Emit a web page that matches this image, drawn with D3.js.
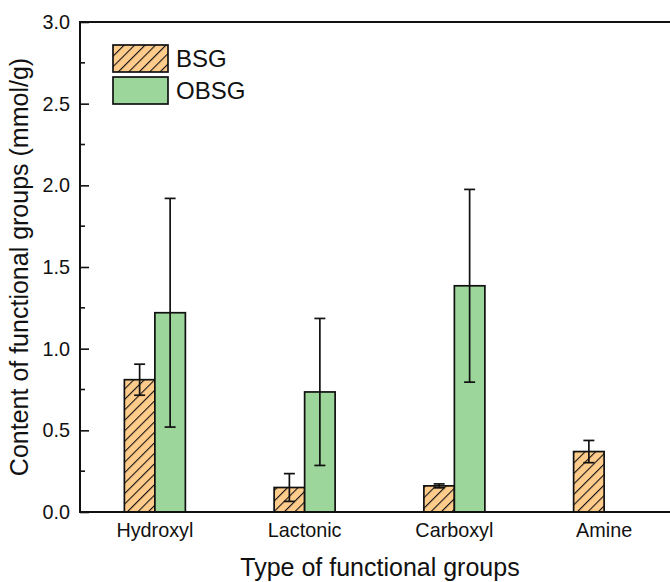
<!DOCTYPE html>
<html>
<head>
<meta charset="utf-8">
<script src="https://cdn.jsdelivr.net/npm/d3@7"></script>
<style>
  html, body { margin: 0; padding: 0; background: #fff; }
  svg { display: block; font-family: "Liberation Sans", Arial, sans-serif; }
</style>
</head>
<body>
<svg id="chart" width="670" height="582"></svg>
<script>
// Functional group contents (mmol/g) with standard deviations
const categories = ["Hydroxyl", "Lactonic", "Carboxyl", "Amine"];
const seriesNames = ["BSG", "OBSG"];
const bsgValues = [0.81, 0.15, 0.16, 0.37];
const bsgErrors = [0.095, 0.085, 0.012, 0.068];
const obsgValues = [1.22, 0.735, 1.385, null];
const obsgErrors = [0.70, 0.45, 0.59, null];
const yTicks = [0, 0.5, 1.0, 1.5, 2.0, 2.5, 3.0];

const svg = d3.select("#chart");
const plotL = 80, plotR = 679, plotT = 22, plotB = 512;

const x = d3.scaleBand().domain(categories).range([plotL, plotR]).paddingInner(0).paddingOuter(0);
const y = d3.scaleLinear().domain([0, 3]).range([plotB, plotT]);
const barW = 30.5;

// Hatch pattern for BSG
const defs = svg.append("defs");
const pat = defs.append("pattern")
  .attr("id", "hatch")
  .attr("patternUnits", "userSpaceOnUse")
  .attr("width", 7.4).attr("height", 7.4)
  .attr("patternTransform", "rotate(45)");
pat.append("rect").attr("width", 7.4).attr("height", 7.4).attr("fill", "#FFCC8C");
pat.append("line").attr("x1", 0).attr("y1", 0).attr("x2", 0).attr("y2", 7.4)
  .attr("stroke", "#111").attr("stroke-width", 2.2);

const fills = { BSG: "url(#hatch)", OBSG: "#9CD69A" };

const rows = [];
categories.forEach((c, i) => {
  rows.push({ cat: c, s: "BSG", v: bsgValues[i], e: bsgErrors[i], off: -barW });
  if (obsgValues[i] != null) rows.push({ cat: c, s: "OBSG", v: obsgValues[i], e: obsgErrors[i], off: 0 });
});
const cx = c => x(c) + x.bandwidth() / 2;

// Bars
svg.append("g").selectAll("rect").data(rows).join("rect")
  .attr("x", d => cx(d.cat) + d.off)
  .attr("y", d => y(d.v))
  .attr("width", barW)
  .attr("height", d => y(0) - y(d.v))
  .attr("fill", d => fills[d.s])
  .attr("stroke", "#111")
  .attr("stroke-width", 1.7);

// Error bars
const eg = svg.append("g").attr("stroke", "#111").attr("stroke-width", 1.7);
rows.forEach(d => {
  const xm = cx(d.cat) + d.off + barW / 2;
  eg.append("line").attr("x1", xm).attr("x2", xm).attr("y1", y(d.v + d.e)).attr("y2", y(d.v - d.e));
  [d.v + d.e, d.v - d.e].forEach(v => {
    eg.append("line").attr("x1", xm - 5.5).attr("x2", xm + 5.5).attr("y1", y(v)).attr("y2", y(v));
  });
});

// Y axis with inward ticks
const yAxis = d3.axisLeft(y).tickValues(yTicks).tickFormat(d3.format(".1f")).tickSizeInner(-9).tickSizeOuter(0).tickPadding(10);
const yg = svg.append("g").attr("transform", `translate(${plotL},0)`).call(yAxis);
yg.select(".domain").remove();
yg.selectAll(".tick line").attr("stroke", "#111").attr("stroke-width", 1.6);
yg.selectAll(".tick text").attr("font-size", 19.8).attr("fill", "#111").attr("font-family", "Liberation Sans, Arial, sans-serif");
// minor ticks
const minor = d3.range(0.25, 3, 0.5);
yg.selectAll(".minor").data(minor).join("line")
  .attr("x1", 0).attr("x2", 5).attr("y1", d => y(d)).attr("y2", d => y(d))
  .attr("stroke", "#111").attr("stroke-width", 1.6);

// X axis labels
const xAxis = d3.axisBottom(x).tickSize(0).tickPadding(11);
const xg = svg.append("g").attr("transform", `translate(0,${plotB})`).call(xAxis);
xg.select(".domain").remove();
xg.selectAll(".tick text").attr("font-size", 19.8).attr("fill", "#111").attr("font-family", "Liberation Sans, Arial, sans-serif");

// Frame
const fg = svg.append("g").attr("stroke", "#111").attr("stroke-width", 2).attr("fill", "none");
fg.append("rect").attr("x", plotL).attr("y", plotT).attr("width", plotR - plotL).attr("height", plotB - plotT);

// Axis titles
svg.append("text").attr("x", 380).attr("y", 576).attr("text-anchor", "middle")
  .attr("font-size", 25).attr("fill", "#111").text("Type of functional groups");
svg.append("text").attr("transform", `translate(28,${(plotT + plotB) / 2}) rotate(-90)`)
  .attr("text-anchor", "middle").attr("font-size", 25).attr("fill", "#111")
  .text("Content of functional groups (mmol/g)");

// Legend
const lg = svg.append("g").attr("transform", "translate(113,45)");
seriesNames.forEach((s, i) => {
  lg.append("rect").attr("x", 0).attr("y", i * 32).attr("width", 55).attr("height", 27)
    .attr("fill", fills[s]).attr("stroke", "#111").attr("stroke-width", 1.7);
  lg.append("text").attr("x", 63).attr("y", i * 32 + 13.5).attr("dy", "0.35em")
    .attr("font-size", 24).attr("fill", "#111").text(s);
});
</script>
</body>
</html>
